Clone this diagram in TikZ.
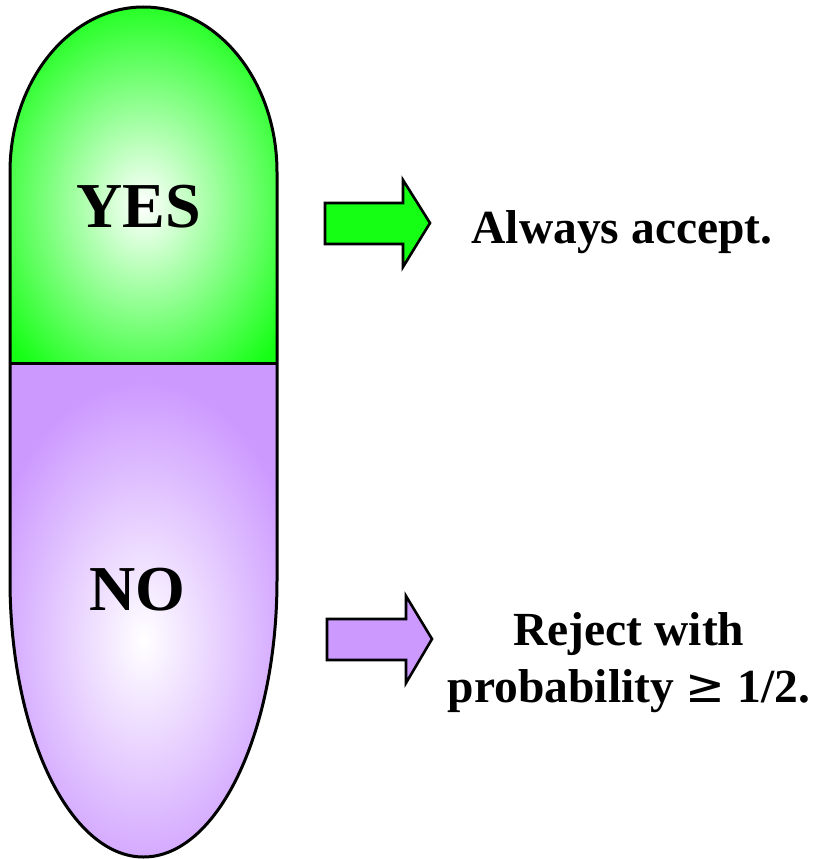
\documentclass[tikz,border=0pt]{standalone}
\usepackage{fontspec}
\setmainfont{Liberation Serif}
\newfontfamily\symfnt{DejaVu Sans}
\definecolor{capgreen}{RGB}{20,255,20}
\definecolor{cappurple}{RGB}{204,153,255}
\tikzset{
  outline/.style={draw=black, line width=3pt, line join=miter},
  bigtxt/.style={font=\bfseries\fontsize{64}{64}\selectfont, inner sep=0pt, anchor=base},
  midtxt/.style={font=\bfseries\fontsize{47.5}{57}\selectfont, inner sep=0pt, anchor=base, align=center},
  arrowshape/.style={draw=black, line width=2.6pt, line join=miter},
}
\begin{document}
\begin{tikzpicture}[x=1pt,y=-1pt]
\useasboundingbox (0,0) rectangle (813,859);
% green top half
\begin{scope}
  \clip (10,172) arc[start angle=180, end angle=360, x radius=133.5, y radius=165] -- (277,363) -- (10,363) -- cycle;
  \fill[capgreen] (0,0) rectangle (290,365);
  \shade[inner color=white, outer color=capgreen] (143.5,205) ellipse (175 and 215);
\end{scope}
% purple bottom half
\begin{scope}
  \clip (10,363) -- (277,363) -- (277,580) arc[start angle=0, end angle=180, x radius=133.5, y radius=277] -- cycle;
  \fill[cappurple] (0,360) rectangle (290,859);
  \shade[inner color=white, outer color=cappurple] (143.5,640) ellipse (165 and 260);
\end{scope}
% capsule outline
\draw[outline] (10,172) arc[start angle=180, end angle=360, x radius=133.5, y radius=165] -- (277,580) arc[start angle=0, end angle=180, x radius=133.5, y radius=277] -- cycle;
\coordinate (dl) at (10,363);
\coordinate (dr) at (277,363);
\draw[outline] (dl) -- (dr);
% labels in capsule
\node[bigtxt] (yes) at (139,227) {YES};
\node[bigtxt] (no) at (137,610) {NO};
% arrows
\draw[arrowshape, fill=capgreen] (325,203) -- (403,203) -- (403,180) -- (430,223) -- (403,267) -- (403,244) -- (325,244) -- cycle;
\draw[arrowshape, fill=cappurple] (327,619) -- (406,619) -- (406,596) -- (432,639) -- (406,683) -- (406,660) -- (327,660) -- cycle;
% right texts
\node[midtxt] (acc) at (622,243) {Always accept.};
\node[midtxt] (rej) at (629,702) {Reject with\\probability {\symfnt\mdseries ≥} 1/2.};
\end{tikzpicture}
\end{document}
